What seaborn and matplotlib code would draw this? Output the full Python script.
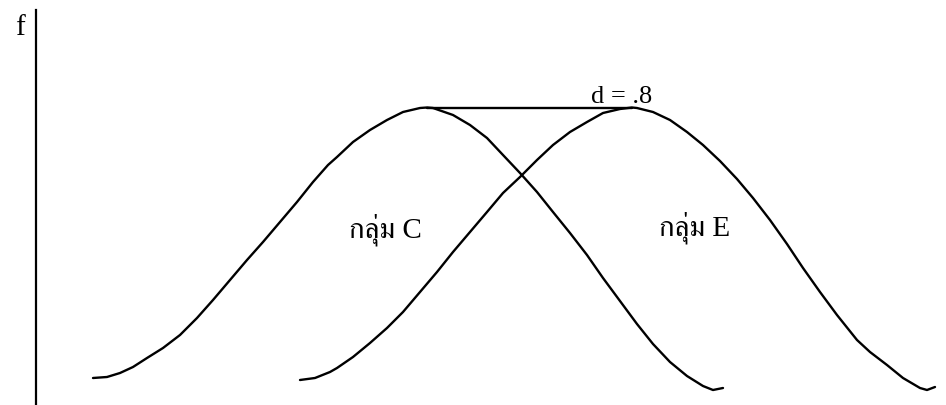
import matplotlib
matplotlib.use("Agg")
import matplotlib.pyplot as plt
import seaborn as sns
import pandas as pd

c_x = [93, 107, 120, 133, 147, 163, 180, 197, 213, 230, 247, 263, 280, 297, 313,
       328, 337, 353, 370, 387, 403, 420, 427, 433, 453, 470, 487, 503, 520, 537,
       553, 570, 587, 603, 620, 637, 653, 670, 687, 703, 713, 723]
c_f = [27, 28, 32, 38, 47, 57, 70, 87, 105, 125, 145, 163, 183, 203, 223,
       240, 248, 263, 275, 285, 293, 297, 297.5, 297, 290, 280, 267, 250, 232, 213,
       193, 172, 150, 127, 104, 81, 61, 43, 29, 19, 15, 17]

e_x = [300, 315, 330, 337, 353, 370, 387, 403, 420, 437, 453, 470, 487, 503, 520,
       537, 553, 570, 587, 603, 620, 632, 637, 653, 670, 687, 703, 720, 737, 753,
       770, 787, 803, 820, 837, 853, 857, 870, 887, 903, 920, 927, 935]
e_f = [25, 27, 33, 37, 48, 62, 77, 93, 113, 133, 153, 173, 193, 212, 228,
       245, 260, 273, 283, 292, 296, 297.5, 297, 293, 285, 273, 260, 244, 226, 207,
       185, 161, 137, 113, 90, 70, 65, 53, 40, 27, 17, 15, 18]

groups = ["กลุ่ม C", "กลุ่ม E"]
effect_label = "d = .8"
axis_label = "f"

df = pd.concat([
    pd.DataFrame({"x": c_x, "f": c_f, "group": groups[0]}),
    pd.DataFrame({"x": e_x, "f": e_f, "group": groups[1]}),
])

sns.set_style("white")
plt.rcParams["font.family"] = ["Liberation Serif", "FreeSerif", "DejaVu Sans"]

fig = plt.figure(figsize=(9.46, 4.05), dpi=100)
ax = fig.add_axes([36 / 946, 0, 910 / 946, 395 / 405])
sns.lineplot(data=df, x="x", y="f", hue="group", units="group", estimator=None,
             palette=["black", "black"], linewidth=1.7, legend=False, ax=ax,
             sort=False)
ax.set_xlim(36, 946)
ax.set_ylim(0, 395)
for s in ["top", "right", "bottom"]:
    ax.spines[s].set_visible(False)
ax.spines["left"].set_linewidth(1.6)
ax.spines["left"].set_color("black")
ax.set_xticks([])
ax.set_yticks([])
ax.set_xlabel("")
ax.set_ylabel("")

# line joining the two peaks
i_c = c_f.index(max(c_f))
i_e = e_f.index(max(e_f))
ax.plot([c_x[i_c], e_x[i_e]], [c_f[i_c], e_f[i_e]], color="black", linewidth=1.7)

ax.text(622, 302, effect_label, ha="center", va="baseline", fontsize=19,
        color="black")
ax.text(385, 168, groups[0], ha="center", va="baseline", fontsize=21,
        color="black")
ax.text(695, 169, groups[1], ha="center", va="baseline", fontsize=21,
        color="black")
fig.text(20 / 946, 1 - 35 / 405, axis_label, ha="center", va="baseline",
         fontsize=21, color="black")

fig.savefig("out.png", dpi=100)
